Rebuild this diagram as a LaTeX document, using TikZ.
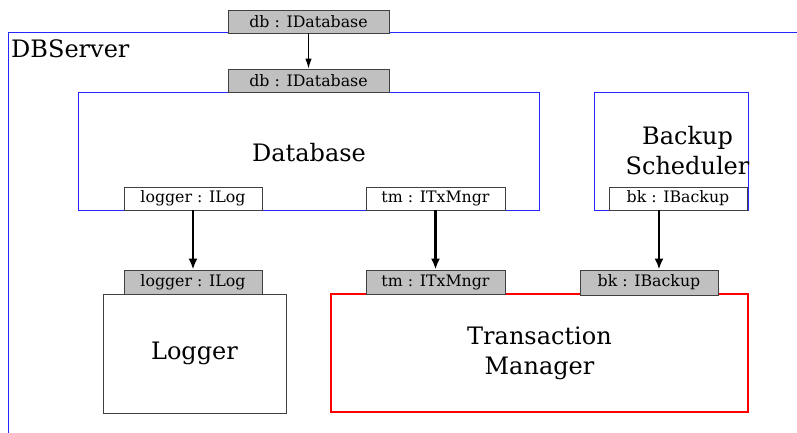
\documentclass[tikz,border=0pt]{standalone}
\usepackage{fontspec}
\setmainfont{DejaVu Serif}
\usetikzlibrary{arrows.meta}
\definecolor{portgray}{HTML}{C0C0C0}
\definecolor{frameblue}{HTML}{2626FF}
\begin{document}
\begin{tikzpicture}[x=1pt,y=-1pt,
  portbox/.style={draw=black!75, line width=0.9pt, inner sep=0pt, minimum height=23pt, font=\fontsize{15.8}{18}\selectfont},
  provided/.style={portbox, fill=portgray},
  required/.style={portbox, fill=white},
  comp/.style={draw=frameblue, line width=0.9pt, inner sep=0pt},
  biglabel/.style={font=\fontsize{24}{30}\selectfont, align=center, inner sep=0pt},
  thinarrow/.style={line width=1pt, -{Latex[length=10pt,width=6.5pt]}},
  thickarrow/.style={line width=2.4pt, -{Latex[length=11pt,width=9pt]}}
]
\useasboundingbox (0,0) rectangle (797,433);
% frame
\draw[frameblue, line width=1pt] (797,33) -- (8,33) -- (8,433);
\node[biglabel, anchor=base west] (dbserver) at (11,58) {DBServer};
% top port
\node[provided, minimum width=161pt] (dbtop) at (308.5,21.5) {db : IDatabase};
% database
\node[comp, minimum width=461pt, minimum height=118pt] (database) at (308.5,151) {};
\node[biglabel] (databaselabel) at (309,153) {Database};
\node[provided, minimum width=161pt] (dbin) at (308.5,80.5) {db : IDatabase};
\node[required, minimum width=138pt] (logreq) at (193,198.5) {logger : ILog};
\node[required, minimum width=139pt] (tmreq) at (435.5,198.5) {tm : ITxMngr};
% backup scheduler
\node[comp, minimum width=154pt, minimum height=118pt] (backup) at (671,151) {};
\node[biglabel] (backuplabel) at (687.5,151) {Backup\\Scheduler};
\node[required, minimum width=138pt] (bkreq) at (678,198.5) {bk : IBackup};
% logger
\node[draw=black!75, line width=0.9pt, minimum width=183pt, minimum height=119pt, inner sep=0pt, biglabel] (logger) at (194.5,353.5) {Logger};
\node[provided, minimum width=138pt, minimum height=24pt] (logprov) at (193,282) {logger : ILog};
% transaction manager
\node[draw=red, line width=2.8pt, minimum width=417pt, minimum height=118pt, inner sep=0pt, biglabel] (tm) at (539.5,353) {Transaction\\Manager};
\node[provided, minimum width=139pt, minimum height=24pt] (tmprov) at (435.5,282) {tm : ITxMngr};
\node[provided, minimum width=138pt, minimum height=25pt] (bkprov) at (649,282.5) {bk : IBackup};
% connectors
\draw[thinarrow] (dbtop.south) -- (dbin.north);
\draw[thickarrow] (logreq.south) -- (logprov.north);
\draw[thickarrow] (tmreq.south) -- (tmprov.north);
\draw[thickarrow] ([xshift=-19pt]bkreq.south) -- ([xshift=10pt]bkprov.north);
\end{tikzpicture}
\end{document}
